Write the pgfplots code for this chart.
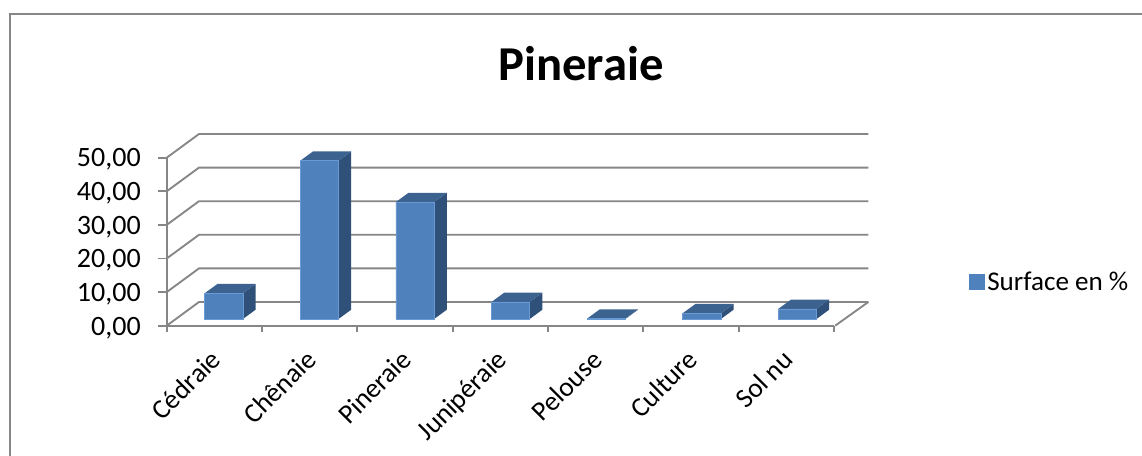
\documentclass[border=0pt]{standalone}
\usepackage{pgfplots}
\pgfplotsset{compat=1.18}
\usepackage{fontspec}
\setmainfont{Carlito}
\definecolor{barfront}{HTML}{4F81BD}
\definecolor{bartop}{HTML}{3C6290}
\definecolor{barside}{HTML}{2F5079}
\definecolor{baredge}{HTML}{6A9AD3}
\definecolor{gridc}{HTML}{868686}
\newcommand\wall[1]{\addplot[gridc,line width=1.4pt,forget plot] coordinates {(-0.597,#1-1.994) (-0.2594,#1+5.06) (6.742,#1+5.06)};}
\newcommand\sidefaces[2]{%
 \addplot[fill=barside,draw=none,forget plot] coordinates {(#1+0.2,0) (#1+0.333,2.77) (#1+0.333,#2+2.77) (#1+0.2,#2)} --cycle;
 \addplot[fill=bartop,draw=none,forget plot] coordinates {(#1-0.2,#2) (#1-0.067,#2+2.77) (#1+0.333,#2+2.77) (#1+0.2,#2)} --cycle;}
\begin{document}
\begin{tikzpicture}
\useasboundingbox (0,0) rectangle (856.5pt,342pt);
\begin{axis}[
  at={(0,0)},anchor=south west,
  scale only axis,width=856.5pt,height=342pt,
  xmin=-2.341,xmax=9.605,ymin=-40.774,ymax=94.94,
  hide axis,clip=false,
  title={\fontsize{36.5}{40}\selectfont\bfseries Pineraie},
  title style={at={(0.5088,0.842)},anchor=center},
  legend style={at={(0.8485,0.3815)},anchor=west,draw=none,fill=none,
    font=\fontsize{20.3}{24}\selectfont,inner sep=0pt,outer sep=0pt},
  legend image code/.code={\fill[barfront] (-2.8pt,-5.6pt) rectangle (8.4pt,5.6pt);},
]
\wall{0}\wall{10}\wall{20}\wall{30}\wall{40}\wall{50}
\addplot[gridc,line width=1.4pt,forget plot] coordinates {(6.395,-1.994) (6.742,5.06)};
\sidefaces{0}{7.65}
\sidefaces{1}{47.1}
\sidefaces{2}{34.8}
\sidefaces{3}{5.06}
\sidefaces{4}{0.1}
\sidefaces{5}{1.7}
\sidefaces{6}{3.0}
\addplot[ybar,bar width=28.6pt,fill=barfront,draw=baredge,line width=0.5pt] coordinates {
 (0,7.65) (1,47.1) (2,34.8) (3,5.06) (4,0.1) (5,1.7) (6,3.0)};
\addlegendentry{Surface en \%}
\end{axis}
\begin{axis}[
  at={(125pt,97.7pt)},anchor=south west,
  scale only axis,width=500.5pt,height=126.1pt,
  xmin=-0.5,xmax=6.5,ymin=0,ymax=50,
  axis lines=left,axis line style={-,gridc,line width=1.4pt},
  clip=false,
  ytick={0,10,20,30,40,50},
  xtick={0,1,2,3,4,5,6},
  xticklabels={Cédraie,Chênaie,Pineraie,Junipéraie,Pelouse,Culture,Sol nu},
  minor xtick={-0.5,0.5,1.5,2.5,3.5,4.5,5.5,6.5},
  major x tick style={draw=none},
  minor x tick style={gridc,line width=1.4pt},
  ytick style={gridc,line width=1.4pt},
  tick align=outside,
  major tick length=6.5pt,minor tick length=5pt,
  /pgf/number format/.cd,fixed,fixed zerofill,precision=2,use comma,assume math mode=true,
  /pgfplots/.cd,
  yticklabel style={font=\fontsize{21}{24}\selectfont,inner sep=0pt,xshift=-12.75pt,yshift=-1.5pt},
  xticklabel style={font=\fontsize{20.5}{24}\selectfont,rotate=45,anchor=north east,inner sep=0pt,xshift=-10pt,yshift=-4.3pt},
]
\end{axis}
\draw[gridc,line width=1.4pt] (7.5pt,0) -- (7.5pt,331.5pt) -- (856.5pt,331.5pt);
\end{tikzpicture}
\end{document}
